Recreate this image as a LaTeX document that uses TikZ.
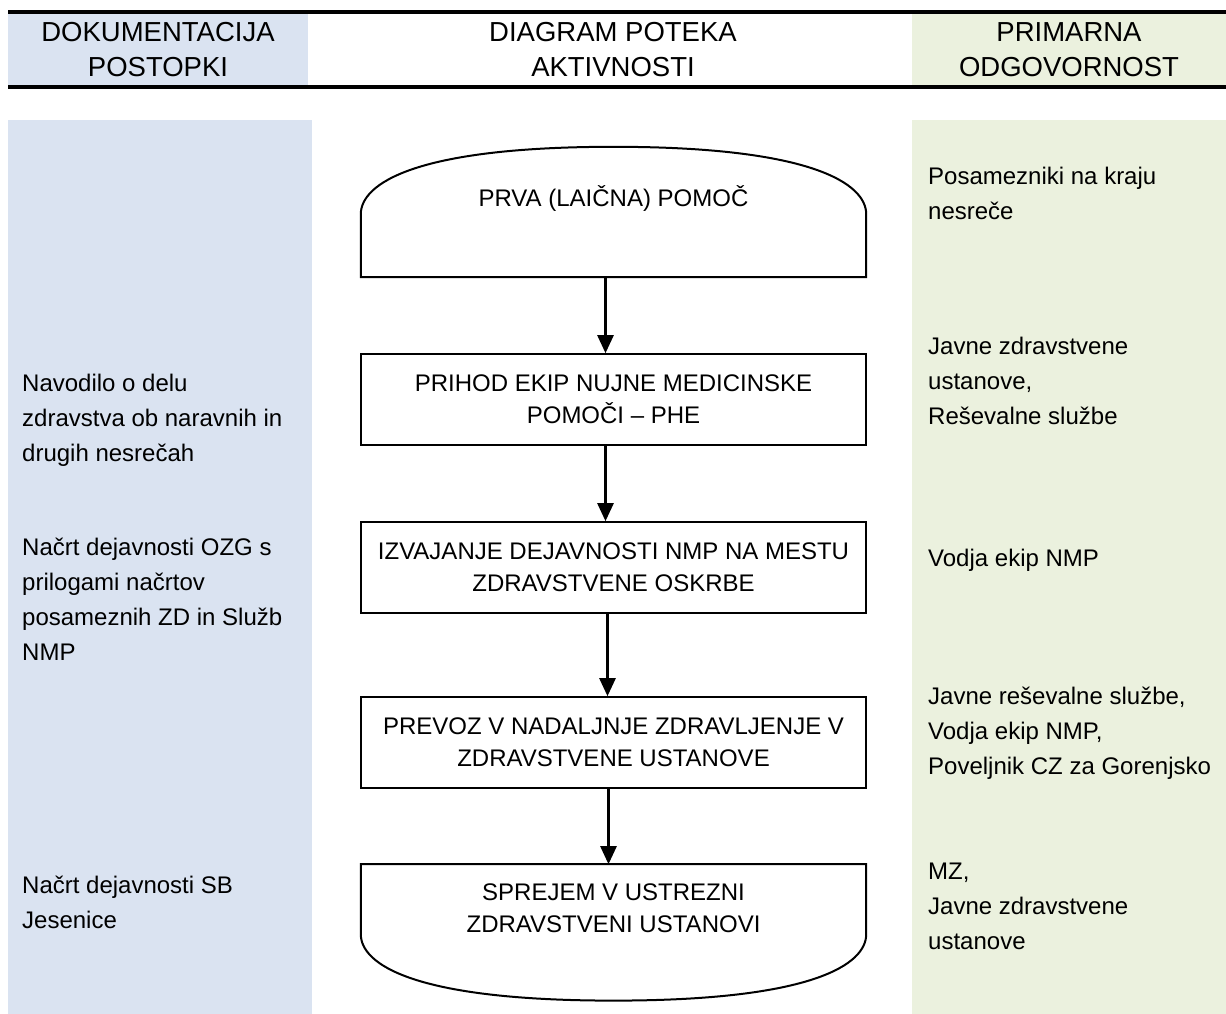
\documentclass[tikz,border=0pt]{standalone}
\usepackage{fontspec}
\setmainfont{Liberation Sans}
\usetikzlibrary{arrows.meta,calc,positioning}
\definecolor{docblue}{HTML}{DAE3F1}
\definecolor{respgreen}{HTML}{EBF1DE}

\begin{document}
\begin{tikzpicture}[x=1pt, y=-1pt,
    head/.style={align=center, font=\fontsize{27.5}{35}\selectfont},
    box/.style={rectangle, draw, line width=2pt, minimum width=505pt, minimum height=91pt, align=center, font=\fontsize{24}{32}\selectfont},
    term/.style={rectangle, minimum width=505pt, align=center, font=\fontsize{24}{32}\selectfont},
    side/.style={anchor=north west, inner sep=0pt, align=left, font=\fontsize{24}{35}\selectfont},
    flow/.style={-{Triangle[length=18pt,width=16pt]}, line width=2.5pt}]
    \useasboundingbox (0,0) rectangle (1226,1014);
    % columns
    \fill[docblue] (8,12) rectangle (308,87);
    \fill[docblue] (8,120) rectangle (312,1014);
    \fill[respgreen] (912,12) rectangle (1226,87);
    \fill[respgreen] (912,120) rectangle (1226,1014);
    \draw[line width=3.5pt] (8,12) -- (1226,12);
    \draw[line width=3.5pt] (8,87) -- (1226,87);
    \node(hdoc) [head] at (158,50) {DOKUMENTACIJA\\POSTOPKI};
    \node(hflow) [head] at (613,50) {DIAGRAM POTEKA\\AKTIVNOSTI};
    \node(hresp) [head] at (1069,50) {PRIMARNA\\ODGOVORNOST};

    % flowchart
    \node(first) [term, minimum height=130pt] at (613.5,212) {PRVA (LAIČNA) POMOČ\\\mbox{}};
    \node(arrival) [box, below=76pt of first] {PRIHOD EKIP NUJNE MEDICINSKE\\POMOČI – PHE};
    \node(onsite) [box, below=75pt of arrival] {IZVAJANJE DEJAVNOSTI NMP NA MESTU\\ZDRAVSTVENE OSKRBE};
    \node(transport) [box, below=82pt of onsite] {PREVOZ V NADALJNJE ZDRAVLJENJE V\\ZDRAVSTVENE USTANOVE};
    \node(admit) [term, minimum height=136pt, below=75pt of transport] {SPREJEM V USTREZNI\\ZDRAVSTVENI USTANOVI\\[16pt]\mbox{}};
    \draw[line width=2pt] (first.south west) -- ($(first.south west)+(0,-63)$) .. controls +(0,-30) and +(-200,0) .. (first.north) .. controls +(200,0) and +(0,-30) .. ($(first.south east)+(0,-63)$) -- (first.south east) -- cycle;
    \draw[line width=2pt] (admit.north west) -- ($(admit.north west)+(0,70)$) .. controls +(0,30) and +(-200,0) .. (admit.south) .. controls +(200,0) and +(0,30) .. ($(admit.north east)+(0,70)$) -- (admit.north east) -- cycle;
    \draw[flow] ([xshift=-8pt]first.south) -- ([xshift=-8pt]arrival.north);
    \draw[flow] ([xshift=-8pt]arrival.south) -- ([xshift=-8pt]onsite.north);
    \draw[flow] ([xshift=-6pt]onsite.south) -- ([xshift=-6pt]transport.north);
    \draw[flow] ([xshift=-5pt]transport.south) -- ([xshift=-5pt]admit.north);

    % documents
    \node(navodilo) [side] at (22,374) {Navodilo o delu\\zdravstva ob naravnih in\\drugih nesrečah};
    \node(nacrtozg) [side] at (22,538) {Načrt dejavnosti OZG s\\prilogami načrtov\\posameznih ZD in Služb\\NMP};
    \node(nacrtsb) [side] at (22,876) {Načrt dejavnosti SB\\Jesenice};

    % responsibility
    \node(posamezniki) [side] at (928,167) {Posamezniki na kraju\\nesreče};
    \node(javne) [side] at (928,337) {Javne zdravstvene\\ustanove,\\Reševalne službe};
    \node(vodja) [side] at (928,549) {Vodja ekip NMP};
    \node(resevalne) [side] at (928,687) {Javne reševalne službe,\\Vodja ekip NMP,\\Poveljnik CZ za Gorenjsko};
    \node(mz) [side] at (928,863) {MZ,\\Javne zdravstvene\\ustanove};
  \end{tikzpicture}
\end{document}
